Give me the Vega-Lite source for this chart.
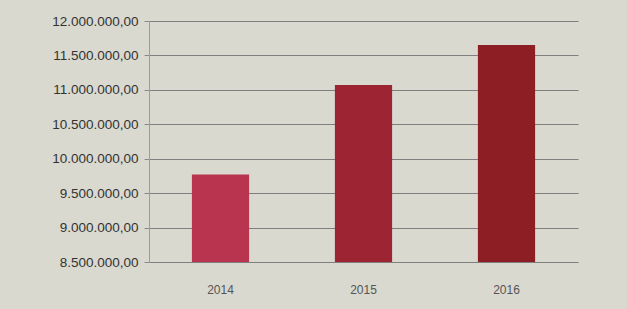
{
  "$schema": "https://vega.github.io/schema/vega-lite/v6.json",
  "autosize": "none",
  "width": 429,
  "height": 241,
  "padding": {"left": 149, "top": 21, "right": 49, "bottom": 47},
  "background": "#d9d9cf",
  "config": {
    "locale": {"number": {"decimal": ",", "thousands": ".", "grouping": [3], "currency": ["", " €"]}},
    "view": {"stroke": null},
    "font": "Liberation Sans"
  },
  "data": {"values": [
    {"year": "2014", "value": 9770000},
    {"year": "2015", "value": 11070000},
    {"year": "2016", "value": 11650000}
  ]},
  "mark": {"type": "bar", "clip": true},
  "encoding": {
    "x": {"field": "year", "type": "nominal", "title": null,
      "scale": {"paddingInner": 0.6, "paddingOuter": 0.3},
      "axis": {"labelAngle": 0, "domain": false, "ticks": false, "labelPadding": 22, "labelFontSize": 12, "labelColor": "#555555"}},
    "y": {"field": "value", "type": "quantitative", "title": null,
      "scale": {"domain": [8500000, 12000000], "zero": false},
      "axis": {"format": ",.2f", "values": [8500000, 9000000, 9500000, 10000000, 10500000, 11000000, 11500000, 12000000],
        "labelOverlap": false, "labelBound": false, "labelFlush": false,
        "gridColor": "#7f7f80", "gridWidth": 1.2, "domainColor": "#9a9aa8", "tickColor": "#8a8a8a", "tickSize": 5,
        "labelFontSize": 13.5, "labelColor": "#333333", "labelPadding": 6}},
    "color": {"field": "year", "type": "nominal", "legend": null,
      "scale": {"range": ["#b8344f", "#9c2433", "#8d1f24"]}}
  }
}
